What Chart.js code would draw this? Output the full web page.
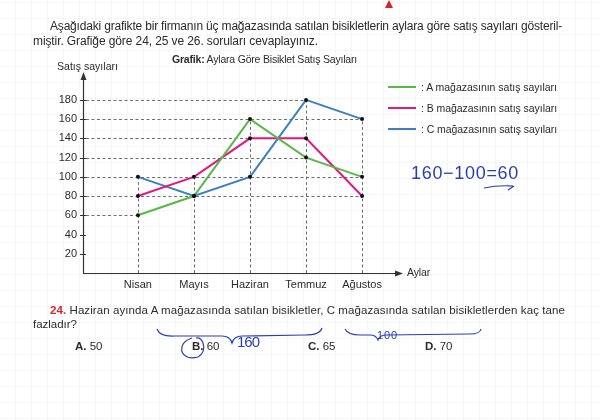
<!DOCTYPE html>
<html><head><meta charset="utf-8">
<script src="https://cdn.jsdelivr.net/npm/chart.js@4/dist/chart.umd.min.js"></script>
<style>
html,body{margin:0;padding:0;background:#fff;}
#page{position:relative;width:600px;height:420px;overflow:hidden;
 background-color:#fff;
 background-image:linear-gradient(to right, rgba(0,0,0,0.03) 1px, transparent 1px),linear-gradient(to bottom, rgba(0,0,0,0.03) 1px, transparent 1px);
 background-size:16px 16px;background-position:15px 2px;
 font-family:"Liberation Sans",Arial,Helvetica,sans-serif;color:#2b2b2b;}
#c{position:absolute;left:0;top:0;}
.t{position:absolute;white-space:nowrap;line-height:1;}
.hw{position:absolute;white-space:nowrap;line-height:1;color:#2a3db8;font-family:"Liberation Sans",Arial,sans-serif;font-weight:normal;}
svg{position:absolute;left:0;top:0;}
</style></head>
<body><div id="page">
<canvas id="c" width="600" height="420"></canvas>
<svg width="600" height="420">
 <path d="M385 8 L389 0 L393 8 Z" fill="#d8232a"/>
 <path d="M157 329 Q160 337 175 336 L222 336 Q230 336 232 343 Q234 336 242 336 L305 335 Q320 335 322 328" fill="none" stroke="#2a3db8" stroke-width="1.2"/>
 <path d="M345 329 Q348 335 360 335 L370 335 Q376 335 378 340 Q380 335 386 335 L470 334 Q480 334 481 329" fill="none" stroke="#2a3db8" stroke-width="1.2"/>
 <path d="M192 338 Q180 342 182 352 Q186 360 198 357 Q206 352 203 343 Q201 337 196 338" fill="none" stroke="#2a3db8" stroke-width="1.2"/>
 <path d="M484 188 Q498 185 513 186 M508 190 L514 186" fill="none" stroke="#2a3db8" stroke-width="1.2"/>
</svg>
<div class="t" data-w="512" style="left:50px;top:20px;font-size:12px">Aşağıdaki grafikte bir firmanın üç mağazasında satılan bisikletlerin aylara göre satış sayıları gösteril-</div>
<div class="t" data-w="285" style="left:33px;top:35px;font-size:12px">miştir. Grafiğe göre 24, 25 ve 26. soruları cevaplayınız.</div>
<div class="t" data-w="185" style="left:172px;top:54px;font-size:10.5px"><b>Grafik:</b> Aylara Göre Bisiklet Satış Sayıları</div>
<div class="t" data-w="61" style="left:57px;top:61px;font-size:10.5px">Satış sayıları</div>
<div class="t" data-w="23" style="left:407px;top:267px;font-size:10.5px">Aylar</div>
<div id="legend"></div>
<div class="hw" data-w="108" style="left:411px;top:164px;font-size:18px">160−100=60</div>
<div class="t" data-w="515" style="left:50px;top:305px;font-size:11.5px"><b style="color:#d8232a">24.</b> Haziran ayında A mağazasında satılan bisikletler, C mağazasında satılan bisikletlerden kaç tane</div>
<div class="t" data-w="44" style="left:33px;top:319px;font-size:11.5px">fazladır?</div>
<div class="t" style="left:75px;top:341px;font-size:11.5px"><b>A.</b> 50</div>
<div class="t" style="left:192px;top:341px;font-size:11.5px"><b>B.</b> 60</div>
<div class="t" style="left:308px;top:341px;font-size:11.5px"><b>C.</b> 65</div>
<div class="t" style="left:425px;top:341px;font-size:11.5px"><b>D.</b> 70</div>
<div class="hw" data-w="22" style="left:237px;top:334px;font-size:15px">160</div>
<div class="hw" data-w="21" style="left:377px;top:330px;font-size:11px">100</div>
</div>
<script>
// ---- data ----
const months = ['Nisan', 'Mayıs', 'Haziran', 'Temmuz', 'Ağustos'];
const storeA = [60, 80, 160, 120, 100];
const storeB = [80, 100, 140, 140, 80];
const storeC = [100, 80, 100, 180, 160];
const yTickValues = [20, 40, 60, 80, 100, 120, 140, 160, 180];
const seriesLabels = [': A mağazasının satış sayıları', ': B mağazasının satış sayıları', ': C mağazasının satış sayıları'];
const seriesColors = ['#58b947', '#e2187f', '#3b80c3'];

// fit text widths with letter-spacing
function fitLS(el, target) {
  const w = el.getBoundingClientRect().width;
  const n = el.textContent.length;
  if (w > 0 && n > 1) el.style.letterSpacing = ((target - w) / n).toFixed(3) + 'px';
}
document.querySelectorAll('[data-w]').forEach(el => fitLS(el, +el.dataset.w));

// legend
const lg = document.getElementById('legend');
const legendY = [87, 108, 129];
seriesLabels.forEach((lab, i) => {
  const ln = document.createElement('div');
  ln.style.cssText = `position:absolute;left:388px;top:${legendY[i]-1}px;width:28px;height:2px;background:${seriesColors[i]}`;
  lg.appendChild(ln);
  const tx = document.createElement('div');
  tx.className = 't';
  tx.style.cssText = `left:421px;top:${legendY[i]-5.5}px;font-size:10.5px`;
  tx.textContent = lab;
  lg.appendChild(tx);
  fitLS(tx, 136);
});

const series = [storeA, storeB, storeC];
const toPts = arr => arr.map((v, i) => ({x: i, y: v}));

const guides = {
  id: 'guides',
  beforeDatasetsDraw(chart) {
    const {ctx, chartArea, scales: {x, y}} = chart;
    ctx.save();
    ctx.strokeStyle = '#6f6f6f';
    ctx.lineWidth = 1;
    ctx.setLineDash([3, 2.5]);
    months.forEach((m, i) => {
      const top = Math.max(...series.map(s => s[i]));
      const px = Math.round(x.getPixelForValue(i)) + 0.5;
      ctx.beginPath(); ctx.moveTo(px, chartArea.bottom); ctx.lineTo(px, y.getPixelForValue(top)); ctx.stroke();
    });
    yTickValues.forEach(v => {
      let last = -1;
      series.forEach(s => s.forEach((val, i) => { if (val === v && i > last) last = i; }));
      if (last >= 0) {
        const py = Math.round(y.getPixelForValue(v)) + 0.5;
        ctx.beginPath(); ctx.moveTo(chartArea.left + 3, py); ctx.lineTo(x.getPixelForValue(last), py); ctx.stroke();
      }
    });
    ctx.restore();
  },
  afterDatasetsDraw(chart) {
    const {ctx} = chart;
    ctx.save();
    ctx.fillStyle = '#111';
    chart.data.datasets.forEach((d, di) => {
      chart.getDatasetMeta(di).data.forEach(pt => {
        ctx.beginPath(); ctx.arc(pt.x, pt.y, 2, 0, Math.PI * 2); ctx.fill();
      });
    });
    ctx.restore();
  },
  afterDraw(chart) {
    const {ctx, chartArea: a, scales: {y}} = chart;
    ctx.save();
    ctx.strokeStyle = '#333'; ctx.fillStyle = '#333'; ctx.lineWidth = 1.2;
    const lx = Math.round(a.left) + 0.5, by = Math.round(a.bottom) + 0.5;
    ctx.beginPath(); ctx.moveTo(lx, a.bottom + 0.5); ctx.lineTo(lx, a.top + 6); ctx.stroke();
    ctx.beginPath(); ctx.moveTo(lx, a.top); ctx.lineTo(lx - 3, a.top + 8); ctx.lineTo(lx + 3, a.top + 8); ctx.closePath(); ctx.fill();
    ctx.beginPath(); ctx.moveTo(a.left, by); ctx.lineTo(a.right - 6, by); ctx.stroke();
    ctx.beginPath(); ctx.moveTo(a.right, by); ctx.lineTo(a.right - 8, by - 3); ctx.lineTo(a.right - 8, by + 3); ctx.closePath(); ctx.fill();
    ctx.lineWidth = 1;
    yTickValues.forEach(v => {
      const py = Math.round(y.getPixelForValue(v)) + 0.5;
      ctx.beginPath(); ctx.moveTo(a.left - 3, py); ctx.lineTo(a.left + 3, py); ctx.stroke();
    });
    ctx.restore();
  }
};

new Chart(document.getElementById('c'), {
  type: 'line',
  data: {
    datasets: series.map((s, i) => ({
      label: seriesLabels[i], data: toPts(s), borderColor: seriesColors[i],
      borderWidth: 2, pointRadius: 0, tension: 0, fill: false
    }))
  },
  options: {
    responsive: false, animation: false, devicePixelRatio: 1,
    layout: {padding: {left: 0, top: 72, right: 197, bottom: 127}},
    plugins: {legend: {display: false}, tooltip: {enabled: false}, title: {display: false}},
    scales: {
      x: {
        type: 'linear', min: -0.98, max: 4.73,
        grid: {display: false, drawTicks: false}, border: {display: false},
        afterBuildTicks: s => { s.ticks = months.map((m, i) => ({value: i})); },
        afterFit: s => { s.height = 20; },
        ticks: {callback: v => months[v], color: '#2b2b2b', padding: 5, maxRotation: 0, autoSkip: false,
          font: {family: '"Liberation Sans", Arial, sans-serif', size: 11}}
      },
      y: {
        min: 0, max: 209,
        grid: {display: false, drawTicks: false}, border: {display: false},
        afterBuildTicks: s => { s.ticks = yTickValues.map(v => ({value: v})); },
        afterFit: s => { s.width = 83; },
        ticks: {color: '#2b2b2b', padding: 6, font: {family: '"Liberation Sans", Arial, sans-serif', size: 11}}
      }
    }
  },
  plugins: [guides]
});
</script>
</body></html>
